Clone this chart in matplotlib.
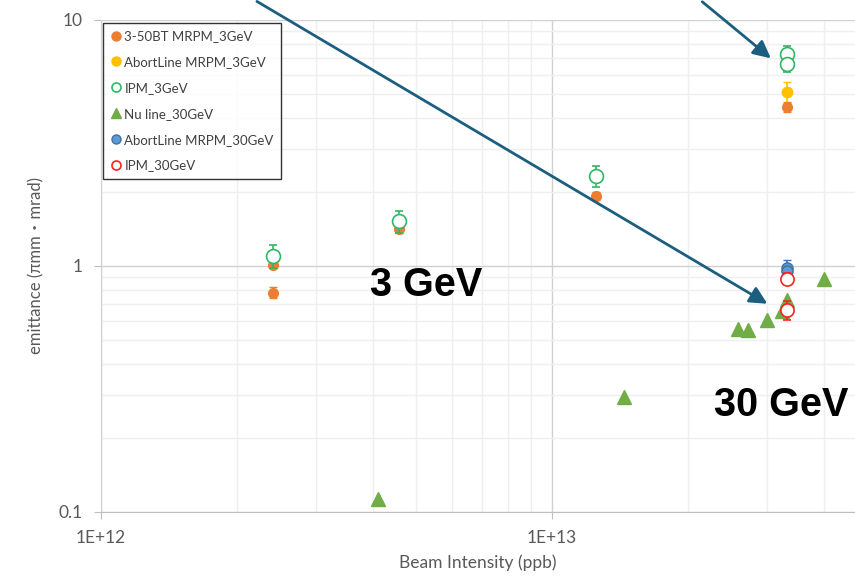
import numpy as np
import matplotlib
matplotlib.use('Agg')
import matplotlib.pyplot as plt
from matplotlib.lines import Line2D
from matplotlib.ticker import FixedLocator, FixedFormatter, LogLocator, NullFormatter

plt.rcParams['font.family'] = ['Lato', 'Noto Sans CJK JP', 'DejaVu Sans']

# 3-50BT MRPM_3GeV
bt3_x = [2.41e12, 2.41e12, 4.58e12, 1.25e13, 3.32e13]
bt3_y = [0.78, 1.01, 1.41, 1.93, 4.43]
bt3_err = [0.04, 0.03, 0.05, 0.07, 0.2]

# AbortLine MRPM_3GeV
ab3_x = [3.32e13]
ab3_y = [5.1]
ab3_err = [0.5]

# IPM_3GeV
ipm3_x = [2.41e12, 4.58e12, 1.25e13, 3.32e13, 3.32e13]
ipm3_y = [1.10, 1.52, 2.32, 7.28, 6.62]
ipm3_err = [0.12, 0.16, 0.23, 0.55, 0.5]

# Nu line_30GeV
nu_x = [4.11e12, 1.446e13, 2.58e13, 2.72e13, 3.0e13, 3.24e13, 3.32e13, 4.01e13]
nu_y = [0.113, 0.293, 0.555, 0.55, 0.603, 0.656, 0.727, 0.886]

# AbortLine MRPM_30GeV
ab30_x = [3.32e13, 3.32e13]
ab30_y = [0.98, 0.95]
ab30_err = [0.08, 0.05]

# IPM_30GeV
ipm30_x = [3.32e13, 3.32e13]
ipm30_y = [0.886, 0.662]
ipm30_err = [0.05, 0.06]

labels = ['3-50BT MRPM_3GeV', 'AbortLine MRPM_3GeV', 'IPM_3GeV',
          'Nu line_30GeV', 'AbortLine MRPM_30GeV', 'IPM_30GeV']

orange = '#ED7D31'
gold = '#FFC000'
green = '#2DB865'
nugreen = '#70AD47'
blue = '#5B9BD5'
red = '#FF2020'
arrow_c = '#1B5E80'
grey = '#595959'

fig = plt.figure(figsize=(8.55, 5.78), dpi=100)
ax = fig.add_axes([101/855, 66/578, 754/855, 492/578])
ax.set_xscale('log')
ax.set_yscale('log')
ax.set_xlim(1e12, 10**(12 + 754/451))
ax.set_ylim(0.1, 10)

ax.errorbar(bt3_x, bt3_y, yerr=bt3_err, fmt='o', color=orange, ms=7, capsize=3,
            elinewidth=1.2, zorder=3)
ax.errorbar(ab3_x, ab3_y, yerr=ab3_err, fmt='o', color=gold, ms=7.5, capsize=3,
            elinewidth=1.2, zorder=3)
ax.errorbar(ipm3_x, ipm3_y, yerr=ipm3_err, fmt='o', color=green, mfc='white', mec=green,
            mew=1.2, ms=10, capsize=3, elinewidth=1.2, zorder=4)
ax.plot(nu_x, nu_y, '^', color=nugreen, ms=10, zorder=3)
ax.errorbar(ab30_x, ab30_y, yerr=ab30_err, fmt='o', color='#4472C4', mfc=blue, mec='#41719C',
            ms=8, capsize=3, elinewidth=1.2, zorder=3)
ax.errorbar(ipm30_x, ipm30_y, yerr=ipm30_err, fmt='o', color=red, mfc='white', mec=red,
            mew=1.2, ms=9.5, capsize=3, elinewidth=1.2, zorder=4)

# grid
ax.xaxis.set_major_locator(FixedLocator([1e12, 1e13]))
ax.xaxis.set_major_formatter(FixedFormatter(['1E+12', '1E+13']))
ax.xaxis.set_minor_locator(LogLocator(base=10, subs=np.arange(2, 10)))
ax.xaxis.set_minor_formatter(NullFormatter())
ax.yaxis.set_major_locator(FixedLocator([0.1, 1, 10]))
ax.yaxis.set_major_formatter(FixedFormatter(['0.1', '1', '10']))
ax.yaxis.set_minor_locator(LogLocator(base=10, subs=np.arange(2, 10)))
ax.yaxis.set_minor_formatter(NullFormatter())
ax.grid(True, which='major', color='#D0D0D0', lw=1.0)
ax.grid(True, which='minor', color='#EFEFEF', lw=1.0)
ax.set_axisbelow(True)
ax.tick_params(which='minor', length=0)
ax.tick_params(axis='x', which='major', length=5, color='#BFBFBF', pad=8, labelsize=12.5, labelcolor=grey)
ax.tick_params(axis='y', which='major', length=5, color='#BFBFBF', pad=8, labelsize=12.5, labelcolor=grey)
for s in ['top', 'right']:
    ax.spines[s].set_visible(False)
ax.spines['bottom'].set_color('#BFBFBF')
ax.spines['left'].set_color('#D0D0D0')

ax.set_xlabel('Beam Intensity (ppb)', fontsize=12.5, color=grey, labelpad=6)
ax.set_ylabel('emittance (πmm・mrad)', fontsize=12, color=grey, labelpad=10)

handles = [
    Line2D([], [], ls='', marker='o', color=orange, ms=6.5),
    Line2D([], [], ls='', marker='o', color=gold, ms=6.5),
    Line2D([], [], ls='', marker='o', mfc='white', mec=green, mew=1.2, ms=6.5),
    Line2D([], [], ls='', marker='^', color=nugreen, ms=6.5),
    Line2D([], [], ls='', marker='o', mfc=blue, mec='#41719C', ms=6.5),
    Line2D([], [], ls='', marker='o', mfc='white', mec=red, mew=1.2, ms=6.5),
]
leg = ax.legend(handles, labels, loc='upper left', bbox_to_anchor=(0.003, 0.994), borderaxespad=0,
                fontsize=9.5, frameon=True, fancybox=False, labelspacing=1.05,
                handletextpad=0.15, handlelength=0.9, borderpad=0.55)
leg.get_frame().set_edgecolor('black')
leg.get_frame().set_linewidth(1.0)
for t in leg.get_texts():
    t.set_color('#404040')

# arrows and labels
ax.annotate('', xy=(3.04e13, 0.693), xytext=(2.19e12, 12.06),
            arrowprops=dict(arrowstyle='-|>,head_length=0.7,head_width=0.35', color=arrow_c,
                            lw=2, mutation_scale=15),
            annotation_clip=False, zorder=5)
ax.annotate('', xy=(3.09e13, 6.87), xytext=(2.13e13, 12.06),
            arrowprops=dict(arrowstyle='-|>,head_length=0.7,head_width=0.35', color=arrow_c,
                            lw=2, mutation_scale=15),
            annotation_clip=False, zorder=5)
ax.text(5.26e12, 0.84, '3 GeV', fontsize=28.5, fontweight='bold', family='Liberation Sans',
        ha='center', va='center', color='black')
ax.text(3.22e13, 0.272, '30 GeV', fontsize=28.5, fontweight='bold', family='Liberation Sans',
        ha='center', va='center', color='black')

fig.savefig('out.png', dpi=100)
